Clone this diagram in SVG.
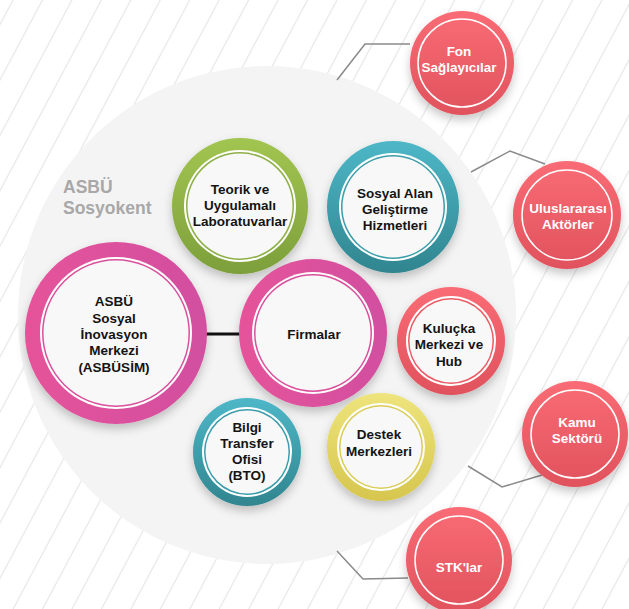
<svg xmlns="http://www.w3.org/2000/svg" width="629" height="609" viewBox="0 0 629 609">
<style>
  .t { font-family: "Liberation Sans", Arial, sans-serif; font-weight: 700; font-size: 13.5px; text-anchor: middle; fill: #141414; }
  .w { fill: #ffffff; }
  .lbl { font-family: "Liberation Sans", Arial, sans-serif; font-weight: 700; font-size: 17.5px; fill: #a8a8a8; }
  .conn { fill: none; stroke: #8a8a8a; stroke-width: 1.5; }
  .ring { fill: none; stroke: #ffffff; stroke-width: 1.5; }
  .inner { fill: #f8f8f8; }
</style>
<defs>
  <pattern id="stripes" width="26" height="26" patternUnits="userSpaceOnUse" patternTransform="rotate(28)">
    <line x1="11.5" y1="-1" x2="11.5" y2="27" stroke="#e6e6e6" stroke-width="1.2"/>
  </pattern>
  <linearGradient id="gRed" x1="0" y1="0" x2="0" y2="1"><stop offset="0" stop-color="#F96C75"/><stop offset="1" stop-color="#E0525D"/></linearGradient>
  <linearGradient id="gPink" x1="0" y1="0" x2="1" y2="0"><stop offset="0" stop-color="#E5539A"/><stop offset="1" stop-color="#D24FA0"/></linearGradient>
  <linearGradient id="gGreen" x1="0" y1="0" x2="0" y2="1"><stop offset="0" stop-color="#A2C551"/><stop offset="1" stop-color="#7D9F3B"/></linearGradient>
  <linearGradient id="gTeal" x1="0" y1="0" x2="0" y2="1"><stop offset="0" stop-color="#4EB7C7"/><stop offset="1" stop-color="#30858F"/></linearGradient>
  <linearGradient id="gYellow" x1="0" y1="0" x2="0" y2="1"><stop offset="0" stop-color="#EEE47C"/><stop offset="1" stop-color="#D6C64E"/></linearGradient>
  <filter id="sh" x="-30%" y="-30%" width="160%" height="170%">
    <feDropShadow dx="0" dy="5" stdDeviation="5" flood-color="#000" flood-opacity="0.22"/>
  </filter>
</defs>

<rect width="629" height="609" fill="#ffffff"/>
<rect width="629" height="609" fill="url(#stripes)"/>

<g id="sosyokent">
  <circle cx="267" cy="315" r="249" fill="#f4f4f4"/>
  <text class="lbl" x="63" y="193">ASBÜ</text>
  <text class="lbl" x="63" y="214">Sosyokent</text>
</g>

<g id="connectors">
  <polyline class="conn" points="337,80 365,44 410,44"/>
  <polyline class="conn" points="471,172 510,151 545,164"/>
  <polyline class="conn" points="468,466 502,487 542,475"/>
  <polyline class="conn" points="337,551 363,579 408,578"/>
  <line x1="205" y1="334" x2="242" y2="334" stroke="#111111" stroke-width="3"/>
</g>

<g id="teorik">
  <circle cx="240" cy="206" r="68" fill="url(#gGreen)" filter="url(#sh)"/>
  <circle cx="240" cy="206" r="56" fill="#ffffff"/>
  <circle cx="240" cy="206" r="54" fill="#8DB046"/>
  <circle cx="240" cy="206" r="52.5" class="inner"/>
  <text class="t" x="240" y="194">Teorik ve</text>
  <text class="t" x="240" y="210">Uygulamalı</text>
  <text class="t" x="240" y="226">Laboratuvarlar</text>
</g>

<g id="sosyal-alan">
  <circle cx="393" cy="207" r="66" fill="url(#gTeal)" filter="url(#sh)"/>
  <circle cx="393" cy="207" r="54" fill="#ffffff"/>
  <circle cx="393" cy="207" r="52" fill="#3C9DAA"/>
  <circle cx="393" cy="207" r="50.5" class="inner"/>
  <text class="t" x="395" y="198">Sosyal Alan</text>
  <text class="t" x="395" y="214">Geliştirme</text>
  <text class="t" x="395" y="230">Hizmetleri</text>
</g>

<g id="asbusim">
  <circle cx="116" cy="333" r="91" fill="url(#gPink)" filter="url(#sh)"/>
  <circle cx="116" cy="333" r="76" fill="#ffffff"/>
  <circle cx="116" cy="333" r="74" fill="#DA4F9C"/>
  <circle cx="116" cy="333" r="72.5" class="inner"/>
  <text class="t" x="114" y="306">ASBÜ</text>
  <text class="t" x="114" y="323">Sosyal</text>
  <text class="t" x="114" y="339">İnovasyon</text>
  <text class="t" x="114" y="355">Merkezi</text>
  <text class="t" x="114" y="372">(ASBÜSİM)</text>
</g>

<g id="firmalar">
  <circle cx="313" cy="333" r="74" fill="url(#gPink)" filter="url(#sh)"/>
  <circle cx="313" cy="333" r="61" fill="#ffffff"/>
  <circle cx="313" cy="333" r="59" fill="#DA4F9C"/>
  <circle cx="313" cy="333" r="57.5" class="inner"/>
  <text class="t" x="314" y="339">Firmalar</text>
</g>

<g id="kulucka">
  <circle cx="451" cy="341" r="54" fill="url(#gRed)" filter="url(#sh)"/>
  <circle cx="451" cy="341" r="45" fill="#ffffff"/>
  <circle cx="451" cy="341" r="43" fill="#EA5C66"/>
  <circle cx="451" cy="341" r="41.5" class="inner"/>
  <text class="t" x="449" y="333">Kuluçka</text>
  <text class="t" x="449" y="349">Merkezi ve</text>
  <text class="t" x="449" y="366">Hub</text>
</g>

<g id="destek">
  <circle cx="381" cy="447" r="54" fill="url(#gYellow)" filter="url(#sh)"/>
  <circle cx="381" cy="447" r="44" fill="#ffffff"/>
  <circle cx="381" cy="447" r="42" fill="#D9CB55"/>
  <circle cx="381" cy="447" r="40.5" class="inner"/>
  <text class="t" x="379" y="439">Destek</text>
  <text class="t" x="379" y="456">Merkezleri</text>
</g>

<g id="bilgi">
  <circle cx="247" cy="452" r="54" fill="url(#gTeal)" filter="url(#sh)"/>
  <circle cx="247" cy="452" r="45" fill="#ffffff"/>
  <circle cx="247" cy="452" r="43" fill="#3C9DAA"/>
  <circle cx="247" cy="452" r="41.5" class="inner"/>
  <text class="t" x="247" y="432">Bilgi</text>
  <text class="t" x="247" y="448">Transfer</text>
  <text class="t" x="247" y="464">Ofisi</text>
  <text class="t" x="247" y="480">(BTO)</text>
</g>

<g id="fon">
  <circle cx="462" cy="63" r="52" fill="url(#gRed)" filter="url(#sh)"/>
  <circle cx="462" cy="63" r="44" class="ring"/>
  <text class="t w" x="459" y="56">Fon</text>
  <text class="t w" x="459" y="72">Sağlayıcılar</text>
</g>

<g id="uluslararasi">
  <circle cx="567" cy="215" r="54" fill="url(#gRed)" filter="url(#sh)"/>
  <circle cx="567" cy="215" r="45" class="ring"/>
  <text class="t w" x="568" y="213">Uluslararası</text>
  <text class="t w" x="568" y="229">Aktörler</text>
</g>

<g id="kamu">
  <circle cx="575" cy="434" r="53" fill="url(#gRed)" filter="url(#sh)"/>
  <circle cx="575" cy="434" r="44" class="ring"/>
  <text class="t w" x="577" y="427">Kamu</text>
  <text class="t w" x="577" y="443">Sektörü</text>
</g>

<g id="stk">
  <circle cx="459" cy="560" r="53" fill="url(#gRed)" filter="url(#sh)"/>
  <circle cx="459" cy="560" r="44" class="ring"/>
  <text class="t w" x="459" y="572">STK'lar</text>
</g>
</svg>
